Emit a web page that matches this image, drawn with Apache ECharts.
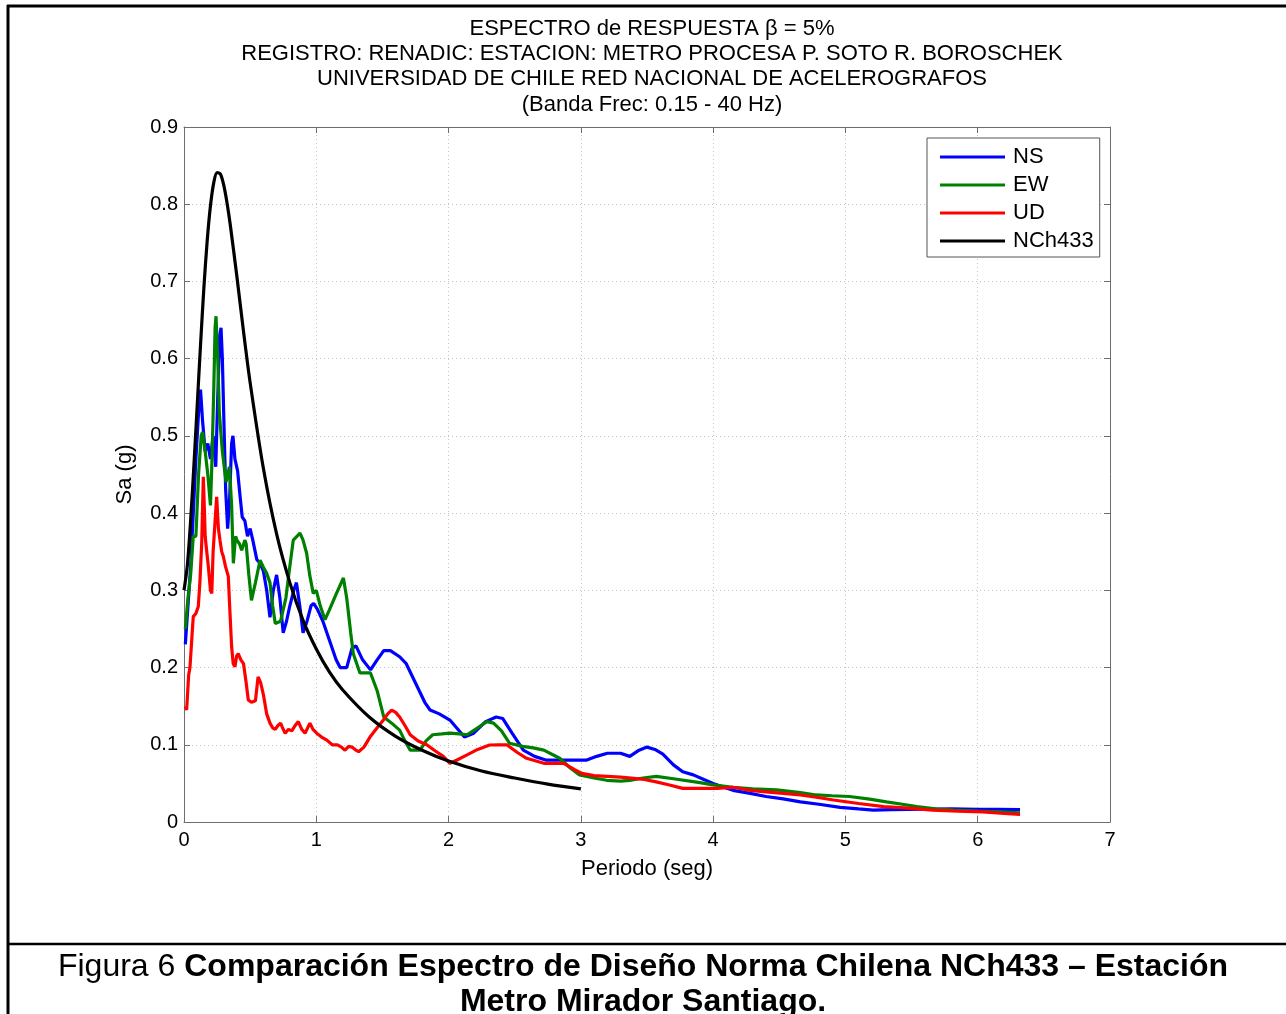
<!DOCTYPE html>
<html>
<head>
<meta charset="utf-8">
<script src="https://cdn.jsdelivr.net/npm/echarts@6/dist/echarts.min.js"></script>
<style>
html,body{margin:0;padding:0;background:#fff;}
#c{width:1286px;height:1014px;}
</style>
</head>
<body>
<div id="c"></div>
<script>
// ---- data ----
const titleLines = [
  'ESPECTRO de RESPUESTA β = 5%',
  'REGISTRO: RENADIC: ESTACION: METRO PROCESA P. SOTO R. BOROSCHEK',
  'UNIVERSIDAD DE CHILE RED NACIONAL DE ACELEROGRAFOS',
  '(Banda Frec: 0.15 - 40 Hz)'
];
const seriesNames = ['NS', 'EW', 'UD', 'NCh433'];
const xTicks = [0, 1, 2, 3, 4, 5, 6, 7];
const yTicks = [0, 0.1, 0.2, 0.3, 0.4, 0.5, 0.6, 0.7, 0.8, 0.9];

const nsPeriod = [0.01,0.03,0.05,0.07,0.09,0.11,0.125,0.14,0.16,0.18,0.20,0.22,0.24,0.255,0.27,0.28,0.29,0.30,0.315,0.33,0.345,0.36,0.37,0.385,0.405,0.425,0.44,0.46,0.48,0.50,0.52,0.55,0.575,0.60,0.625,0.65,0.675,0.70,0.725,0.75,0.775,0.80,0.83,0.85,0.875,0.90,0.93,0.96,0.98,1.01,1.05,1.10,1.15,1.18,1.23,1.27,1.30,1.35,1.41,1.46,1.51,1.56,1.63,1.68,1.75,1.82,1.86,1.93,2.01,2.07,2.12,2.19,2.28,2.36,2.41,2.48,2.565,2.65,2.74,2.9,3.04,3.12,3.2,3.3,3.37,3.44,3.50,3.56,3.62,3.70,3.77,3.85,3.93,4.0,4.08,4.15,4.28,4.40,4.53,4.66,4.80,4.96,5.10,5.21,5.35,5.6,5.8,6.0,6.15,6.32];
const nsSa = [0.23,0.28,0.33,0.40,0.47,0.53,0.56,0.52,0.48,0.49,0.47,0.50,0.46,0.55,0.63,0.64,0.60,0.53,0.43,0.38,0.42,0.49,0.50,0.47,0.455,0.42,0.395,0.39,0.37,0.38,0.365,0.34,0.335,0.325,0.30,0.265,0.30,0.32,0.29,0.245,0.26,0.28,0.30,0.31,0.28,0.245,0.26,0.28,0.283,0.275,0.26,0.235,0.21,0.20,0.20,0.225,0.228,0.21,0.197,0.21,0.222,0.222,0.214,0.205,0.18,0.155,0.145,0.14,0.132,0.12,0.11,0.115,0.13,0.136,0.134,0.115,0.093,0.085,0.08,0.08,0.08,0.085,0.089,0.089,0.085,0.093,0.097,0.094,0.088,0.074,0.065,0.061,0.055,0.050,0.045,0.041,0.037,0.033,0.030,0.026,0.023,0.019,0.017,0.0155,0.016,0.0165,0.017,0.0165,0.0165,0.016];

const ewPeriod = [0.01,0.03,0.05,0.07,0.09,0.11,0.13,0.14,0.16,0.18,0.20,0.21,0.225,0.235,0.242,0.255,0.267,0.29,0.318,0.343,0.36,0.373,0.39,0.40,0.42,0.436,0.46,0.47,0.49,0.51,0.54,0.575,0.60,0.625,0.65,0.67,0.69,0.73,0.77,0.80,0.826,0.877,0.90,0.927,0.95,0.977,1.0,1.03,1.066,1.10,1.15,1.205,1.23,1.26,1.28,1.33,1.41,1.46,1.51,1.57,1.63,1.67,1.71,1.785,1.83,1.88,1.95,2.01,2.08,2.14,2.22,2.29,2.34,2.40,2.46,2.56,2.64,2.72,2.84,2.92,2.99,3.1,3.195,3.3,3.37,3.47,3.57,3.7,3.9,4.0,4.15,4.3,4.48,4.66,4.78,4.9,5.03,5.17,5.31,5.43,5.54,5.68,5.82,6.0,6.15,6.32];
const ewSa = [0.25,0.29,0.32,0.37,0.37,0.45,0.50,0.505,0.48,0.45,0.41,0.46,0.56,0.64,0.655,0.60,0.53,0.48,0.44,0.46,0.41,0.335,0.37,0.365,0.36,0.352,0.365,0.36,0.32,0.287,0.31,0.339,0.33,0.322,0.31,0.28,0.257,0.26,0.29,0.331,0.365,0.374,0.365,0.348,0.32,0.296,0.30,0.28,0.262,0.275,0.295,0.316,0.29,0.245,0.218,0.193,0.193,0.17,0.136,0.128,0.119,0.105,0.093,0.093,0.105,0.113,0.114,0.115,0.114,0.113,0.122,0.130,0.128,0.118,0.102,0.098,0.096,0.093,0.0825,0.07,0.061,0.057,0.054,0.053,0.054,0.057,0.059,0.056,0.051,0.048,0.045,0.043,0.0415,0.038,0.035,0.034,0.033,0.030,0.026,0.023,0.020,0.017,0.0155,0.014,0.013,0.012];

const udPeriod = [0.01,0.02,0.035,0.045,0.06,0.07,0.09,0.108,0.12,0.134,0.146,0.155,0.16,0.172,0.184,0.20,0.21,0.22,0.235,0.247,0.26,0.272,0.285,0.297,0.315,0.335,0.345,0.36,0.372,0.385,0.398,0.41,0.43,0.45,0.47,0.486,0.51,0.54,0.56,0.58,0.60,0.625,0.65,0.67,0.69,0.71,0.73,0.75,0.765,0.79,0.815,0.84,0.864,0.89,0.915,0.935,0.952,0.975,1.003,1.04,1.08,1.12,1.16,1.19,1.217,1.245,1.27,1.30,1.32,1.36,1.406,1.46,1.507,1.54,1.57,1.60,1.63,1.67,1.71,1.77,1.835,1.9,1.96,2.01,2.06,2.14,2.22,2.31,2.38,2.44,2.52,2.59,2.72,2.87,2.95,3.006,3.1,3.2,3.30,3.40,3.48,3.57,3.67,3.77,3.9,4.03,4.15,4.28,4.40,4.53,4.66,4.78,4.91,5.1,5.29,5.48,5.66,5.85,6.04,6.2,6.32];
const udSa = [0.15,0.145,0.19,0.20,0.24,0.266,0.27,0.279,0.31,0.361,0.447,0.40,0.37,0.35,0.331,0.30,0.296,0.35,0.39,0.421,0.38,0.365,0.35,0.344,0.33,0.318,0.28,0.227,0.205,0.201,0.215,0.218,0.21,0.205,0.18,0.158,0.155,0.157,0.188,0.18,0.165,0.14,0.128,0.122,0.12,0.125,0.128,0.12,0.115,0.12,0.118,0.125,0.13,0.12,0.115,0.122,0.128,0.12,0.115,0.11,0.106,0.10,0.10,0.097,0.093,0.098,0.097,0.093,0.091,0.097,0.11,0.122,0.132,0.14,0.145,0.142,0.136,0.125,0.113,0.105,0.10,0.092,0.085,0.076,0.08,0.087,0.094,0.0997,0.10,0.10,0.09,0.0825,0.076,0.076,0.068,0.063,0.060,0.059,0.058,0.0566,0.055,0.052,0.048,0.0435,0.0435,0.0435,0.045,0.041,0.039,0.037,0.035,0.032,0.0285,0.024,0.020,0.018,0.0155,0.014,0.013,0.011,0.010];

const nchPeriod = [0,0.025,0.05,0.075,0.1,0.125,0.15,0.175,0.2,0.225,0.25,0.275,0.3,0.325,0.35,0.4,0.45,0.5,0.6,0.7,0.8,0.9,1.0,1.1,1.2,1.4,1.6,1.8,2.0,2.25,2.5,2.75,3.0];
const nchSa = [0.300,0.332,0.390,0.462,0.540,0.618,0.691,0.752,0.798,0.828,0.841,0.839,0.825,0.802,0.773,0.706,0.635,0.569,0.458,0.373,0.310,0.261,0.224,0.194,0.171,0.136,0.111,0.093,0.079,0.066,0.057,0.049,0.043];

const captionNormal = 'Figura 6 ';
const captionBold1 = 'Comparación Espectro de Diseño Norma Chilena NCh433 – Estación';
const captionBold2 = 'Metro Mirador Santiago.';

// ---- build chart ----
function zip(a, b) { return a.map((v, i) => [v, b[i]]); }
const colors = ['#0000ff', '#008000', '#ff0000', '#000000'];
const FONT = '"Liberation Sans", Arial, Helvetica, sans-serif';

const chart = echarts.init(document.getElementById('c'), null, {renderer: 'canvas'});

const gridL = 184, gridT = 127, gridW = 926, gridH = 695;
const axisGray = '#6e6e6e';

const baseX = {
  type: 'value', min: xTicks[0], max: xTicks[xTicks.length - 1], interval: 1,
  axisLine: {show: true, onZero: false, lineStyle: {color: axisGray, width: 1}},
  axisTick: {show: true, inside: true, length: 6, lineStyle: {color: axisGray}},
  splitLine: {show: false}
};
const baseY = {
  type: 'value', min: yTicks[0], max: yTicks[yTicks.length - 1], interval: 0.1,
  axisLine: {show: true, onZero: false, lineStyle: {color: axisGray, width: 1}},
  axisTick: {show: true, inside: true, length: 6, lineStyle: {color: axisGray}},
  splitLine: {show: false}
};

const option = {
  animation: false,
  backgroundColor: '#ffffff',
  textStyle: {fontFamily: FONT},
  title: {
    text: titleLines.join('\n'),
    left: 647, top: 11, textAlign: 'center',
    textStyle: {fontFamily: FONT, fontSize: 22, fontWeight: 'normal', color: '#000', lineHeight: 25.3}
  },
  grid: {left: gridL, top: gridT, width: gridW, height: gridH, show: false},
  legend: {
    data: seriesNames,
    orient: 'vertical',
    left: 927, top: 138,
    icon: 'rect',
    itemWidth: 65, itemHeight: 3,
    itemGap: 6,
    padding: [8, 6, 5, 13],
    borderColor: '#555', borderWidth: 1,
    backgroundColor: '#fff',
    textStyle: {fontFamily: FONT, fontSize: 22, color: '#000', lineHeight: 22, padding: [0, 0, 0, 3]},
    selectedMode: false
  },
  xAxis: [
    Object.assign({}, baseX, {
      position: 'bottom',
      name: 'Periodo (seg)', nameLocation: 'middle', nameGap: 36,
      nameTextStyle: {fontFamily: FONT, fontSize: 22, color: '#000'},
      axisLabel: {show: true, color: '#000', fontSize: 20, fontFamily: FONT, margin: 8},
      splitLine: {show: true, lineStyle: {color: '#c4c4c4', type: [1, 3], width: 1}}
    }),
    Object.assign({}, baseX, {position: 'top', axisLabel: {show: false}})
  ],
  yAxis: [
    Object.assign({}, baseY, {
      position: 'left',
      name: 'Sa (g)', nameLocation: 'middle', nameGap: 48,
      nameTextStyle: {fontFamily: FONT, fontSize: 22, color: '#000'},
      axisLabel: {show: true, color: '#000', fontSize: 20, fontFamily: FONT, margin: 6,
        formatter: v => (Math.round(v * 10) / 10).toString()},
      splitLine: {show: true, lineStyle: {color: '#c4c4c4', type: [1, 3], width: 1}}
    }),
    Object.assign({}, baseY, {position: 'right', axisLabel: {show: false}})
  ],
  series: [
    {name: seriesNames[0], type: 'line', data: zip(nsPeriod, nsSa), showSymbol: false, symbol: 'none',
      lineStyle: {color: colors[0], width: 3.2}, itemStyle: {color: colors[0]}, z: 3},
    {name: seriesNames[1], type: 'line', data: zip(ewPeriod, ewSa), showSymbol: false, symbol: 'none',
      lineStyle: {color: colors[1], width: 3.2}, itemStyle: {color: colors[1]}, z: 4},
    {name: seriesNames[2], type: 'line', data: zip(udPeriod, udSa), showSymbol: false, symbol: 'none',
      lineStyle: {color: colors[2], width: 3.2}, itemStyle: {color: colors[2]}, z: 5},
    {name: seriesNames[3], type: 'line', data: zip(nchPeriod, nchSa), showSymbol: false, symbol: 'none',
      smooth: 0.3,
      lineStyle: {color: colors[3], width: 3.2}, itemStyle: {color: colors[3]}, z: 6}
  ],
  graphic: [
    {type: 'line', shape: {x1: 7, y1: 6, x2: 1286, y2: 6}, style: {stroke: '#000', lineWidth: 3}, silent: true},
    {type: 'line', shape: {x1: 8, y1: 5, x2: 8, y2: 1014}, style: {stroke: '#000', lineWidth: 3}, silent: true},
    {type: 'line', shape: {x1: 8, y1: 944, x2: 1286, y2: 944}, style: {stroke: '#000', lineWidth: 2.5}, silent: true},
    {type: 'text', left: 'center', top: 951,
      style: {
        text: '{n|' + captionNormal + '}{b|' + captionBold1 + '}\n{b|' + captionBold2 + '}',
        textAlign: 'center',
        rich: {
          n: {fontFamily: FONT, fontSize: 32, fontWeight: 'normal', fill: '#000', lineHeight: 35},
          b: {fontFamily: FONT, fontSize: 32, fontWeight: 'bold', fill: '#000', lineHeight: 35}
        }
      }
    }
  ]
};
chart.setOption(option);
</script>
</body>
</html>
